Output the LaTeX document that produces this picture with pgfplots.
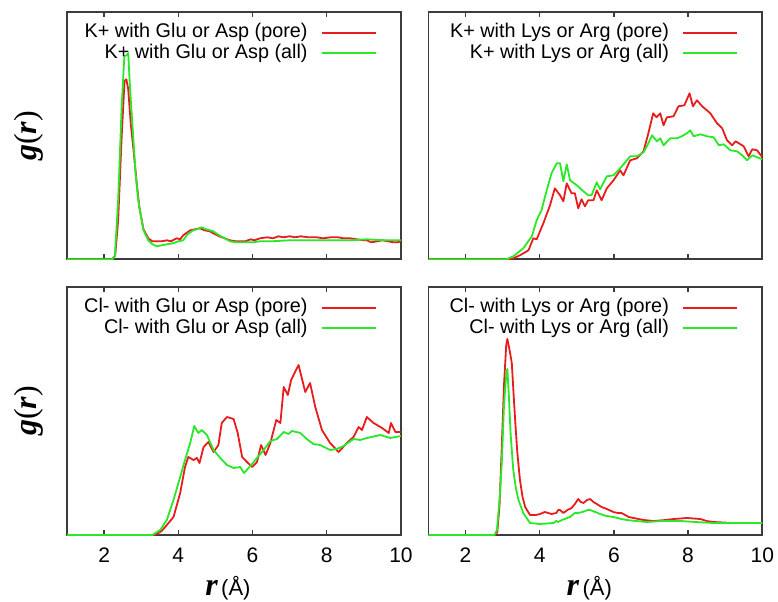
\documentclass[border=0pt]{standalone}
\usepackage{fontspec}
\setmainfont{Liberation Sans}
\newfontfamily\serifit{Liberation Serif}
\usepackage{pgfplots}
\pgfplotsset{compat=1.18}
\definecolor{PoreRed}{RGB}{232,28,28}
\definecolor{AllGreen}{RGB}{40,232,40}
\definecolor{Frame}{RGB}{60,60,60}
\newcommand{\bi}[1]{{\bfseries\itshape #1}}
\pgfplotsset{
  rdf/.style={
    scale only axis, width=167pt, height=123.5pt,
    anchor=south west,
    xmin=1, xmax=10, ymin=0, ymax=247,
    xtick={2,4,6,8,10}, ytick=\empty,
    tick align=inside, xtick pos=both, major tick length=2.5pt,
    tick style={Frame, line width=0.7pt},
    axis line style={Frame, line width=0.8pt},
    /pgf/number format/assume math mode=true,
    xticklabels={},
    legend style={at={(1,1)}, anchor=north east, xshift=-12pt, yshift=-5pt,
      draw=none, fill=none, inner sep=0pt, row sep=0pt, column sep=6pt,
      font=\fontsize{9.9}{10}\selectfont,
      nodes={inner sep=0.6pt, text height=7pt, text depth=2pt}},
    legend cell align=right,
    legend plot pos=right,
    legend image code/.code={\draw[#1] (0pt,0pt) -- (27pt,0pt);},
    every axis plot/.append style={line width=0.9pt, line join=round},
  },
  bottomrow/.style={
    ymax=248, height=124pt,
    xticklabels={2,4,6,8,10},
    xticklabel style={anchor=base, yshift=-13.5pt, font=\fontsize{10.5}{12}\selectfont},
    xlabel={{\serifit\fontsize{16}{18}\selectfont\bi{r}}\,{\fontsize{11}{12}\selectfont(Å)}},
    xlabel style={at={(axis description cs:0.5,-0.242)}, anchor=base, xshift=-3pt},
  },
  leftcol/.style={
    ylabel={\serifit\fontsize{16}{18}\selectfont\bi{g}(\bi{r})},
    ylabel style={at={(axis description cs:-0.114,0.5)}, anchor=center},
  },
}
\begin{document}
\begin{tikzpicture}
\useasboundingbox (0,0) rectangle (389pt,300.5pt);

% top left: K+ with acidic residues
\begin{axis}[rdf, leftcol, at={(33.5pt,170.85pt)}]
\addplot[PoreRed] coordinates {
(1,0) (2.22,0) (2.30,4) (2.38,40) (2.47,120) (2.55,178) (2.60,180) (2.65,170)
(2.72,135) (2.79,110) (2.88,76) (2.95,52) (3.06,30) (3.19,21) (3.30,18) (3.42,18)
(3.55,18) (3.69,19) (3.80,18) (3.96,21) (4.05,20) (4.13,24) (4.32,29) (4.45,30)
(4.58,31) (4.70,29) (4.85,28) (4.94,26) (5.10,23) (5.25,21) (5.39,19) (5.55,18)
(5.66,18) (5.80,18) (5.95,20) (6.05,19) (6.20,21) (6.40,22) (6.55,21) (6.70,23)
(6.83,22) (7.00,23) (7.15,22) (7.30,23) (7.50,22) (7.73,22) (7.90,21) (8.10,22)
(8.30,22) (8.45,21) (8.63,21) (8.80,20) (9.00,19) (9.08,19) (9.20,17) (9.35,18)
(9.50,19) (9.65,18) (9.80,17) (9.90,17) (10,18)};
\addlegendentry{K+ with Glu or Asp (pore)}
\addplot[AllGreen] coordinates {
(1,0) (2.22,0) (2.29,3) (2.38,60) (2.47,150) (2.545,203) (2.60,204) (2.65,206)
(2.70,170) (2.79,119) (2.85,85) (2.92,59) (3.06,29) (3.19,19) (3.30,15) (3.42,13)
(3.55,14) (3.69,15) (3.85,16) (4.00,18) (4.13,19) (4.25,25) (4.40,29) (4.50,30)
(4.63,32) (4.75,30) (4.85,29) (4.94,28) (5.10,24) (5.25,21) (5.39,18) (5.55,17)
(5.80,17) (6.00,17) (6.20,18) (6.50,18) (7.00,19) (7.50,19) (8.00,19) (8.63,19)
(9.08,20) (9.50,19) (10,19)};
\addlegendentry{K+ with Glu or Asp (all)}
\end{axis}

% top right: K+ with basic residues
\begin{axis}[rdf, at={(214.15pt,170.85pt)}]
\addplot[PoreRed] coordinates {
(1,0) (3.20,0) (3.29,1) (3.47,4) (3.70,9) (3.83,21) (3.92,20) (4.10,36) (4.28,54)
(4.41,71) (4.55,64) (4.64,58) (4.73,76) (4.86,66) (4.95,66) (5.04,51) (5.13,60)
(5.22,53) (5.31,59) (5.45,59) (5.54,69) (5.67,59) (5.81,71) (5.99,79) (6.17,89)
(6.26,84) (6.44,99) (6.62,101) (6.80,108) (6.93,126) (7.06,146) (7.15,142)
(7.25,146) (7.34,134) (7.43,142) (7.61,143) (7.74,153) (7.90,154) (8.04,166)
(8.13,153) (8.24,159) (8.38,153) (8.60,146) (8.78,136) (8.92,131) (9.05,119)
(9.19,114) (9.28,118) (9.50,113) (9.63,103) (9.73,110) (9.86,109) (10,102)};
\addlegendentry{K+ with Lys or Arg (pore)}
\addplot[AllGreen] coordinates {
(1,0) (3.11,0) (3.29,3) (3.56,11) (3.79,23) (3.92,39) (4.05,49) (4.19,69) (4.32,86)
(4.46,96) (4.55,96) (4.64,78) (4.73,95) (4.82,79) (5.00,74) (5.18,68) (5.31,64)
(5.40,64) (5.54,77) (5.63,70) (5.81,83) (5.99,84) (6.17,91) (6.44,103) (6.62,103)
(6.80,107) (6.89,113) (7.03,124) (7.16,118) (7.25,121) (7.34,114) (7.52,121)
(7.70,121) (7.83,123) (7.97,126) (8.06,129) (8.15,123) (8.33,125) (8.51,123)
(8.69,122) (8.83,114) (8.96,115) (9.14,109) (9.32,108) (9.46,104) (9.59,99)
(9.73,104) (10,100)};
\addlegendentry{K+ with Lys or Arg (all)}
\end{axis}

% bottom left: Cl- with acidic residues
\begin{axis}[rdf, bottomrow, leftcol, at={(33.5pt,33pt)}]
\addplot[PoreRed] coordinates {
(1,0) (3.35,0) (3.42,1) (3.55,4) (3.69,10) (3.87,18) (4.05,42) (4.18,68) (4.27,78)
(4.41,75) (4.50,77) (4.57,72) (4.68,88) (4.81,93) (4.95,83) (5.08,90) (5.17,112)
(5.31,118) (5.49,116) (5.60,102) (5.72,78) (5.85,73) (5.99,68) (6.12,73) (6.23,90)
(6.35,80) (6.48,92) (6.64,115) (6.75,112) (6.84,148) (6.95,140) (7.04,155)
(7.24,170) (7.42,143) (7.55,152) (7.69,128) (7.87,105) (8.09,92) (8.32,83)
(8.54,92) (8.72,98) (8.86,108) (8.95,105) (9.08,118) (9.26,112) (9.49,107)
(9.67,102) (9.73,112) (9.85,103) (10,103)};
\addlegendentry{Cl- with Glu or Asp (pore)}
\addplot[AllGreen] coordinates {
(1,0) (3.30,0) (3.51,5) (3.69,15) (3.87,35) (4.05,58) (4.18,75) (4.32,92) (4.43,109)
(4.54,102) (4.63,105) (4.77,100) (4.95,85) (5.13,77) (5.31,70) (5.49,67) (5.67,68)
(5.77,62) (5.94,69) (6.12,77) (6.30,85) (6.48,94) (6.66,96) (6.84,103) (6.97,101)
(7.06,104) (7.29,102) (7.46,96) (7.64,91) (7.82,90) (8.09,85) (8.27,86) (8.45,89)
(8.72,96) (8.90,95) (9.08,97) (9.44,100) (9.71,97) (10,99)};
\addlegendentry{Cl- with Glu or Asp (all)}
\end{axis}

% bottom right: Cl- with basic residues
\begin{axis}[rdf, bottomrow, at={(214.15pt,33pt)}]
\addplot[PoreRed] coordinates {
(1,0) (2.80,0) (2.86,3) (2.92,30) (2.98,88) (3.04,150) (3.10,190) (3.13,196)
(3.20,183) (3.25,172) (3.30,140) (3.34,115) (3.40,82) (3.47,55) (3.54,38) (3.61,28)
(3.74,20) (3.90,20) (4.01,21) (4.14,23) (4.32,21) (4.45,22) (4.50,25) (4.55,25)
(4.64,22) (4.75,25) (4.86,27) (4.95,31) (5.04,36) (5.11,33) (5.18,32) (5.28,35)
(5.36,36) (5.45,33) (5.54,31) (5.67,28) (5.81,26) (5.99,23) (6.10,22) (6.20,22)
(6.26,21) (6.40,18) (6.53,17) (6.80,15) (7.07,14) (7.40,15) (7.61,16) (7.97,17)
(8.33,16) (8.50,14) (8.69,13) (9.20,12) (10,12)};
\addlegendentry{Cl- with Lys or Arg (pore)}
\addplot[AllGreen] coordinates {
(1,0) (2.78,0) (2.85,5) (2.93,40) (2.98,72) (3.04,130) (3.10,160) (3.13,166)
(3.17,140) (3.22,100) (3.29,65) (3.36,47) (3.43,35) (3.56,22) (3.74,12) (4.01,11)
(4.37,12) (4.45,14) (4.50,13) (4.60,15) (4.82,18) (4.95,22) (5.04,22) (5.15,23)
(5.30,25) (5.36,25) (5.50,23) (5.63,21) (5.80,19) (5.99,18) (6.20,16) (6.35,15)
(6.60,14) (6.89,13) (7.30,14) (7.79,14) (8.20,13) (8.69,12) (9.30,12) (10,12)};
\addlegendentry{Cl- with Lys or Arg (all)}
\end{axis}
\end{tikzpicture}
\end{document}
